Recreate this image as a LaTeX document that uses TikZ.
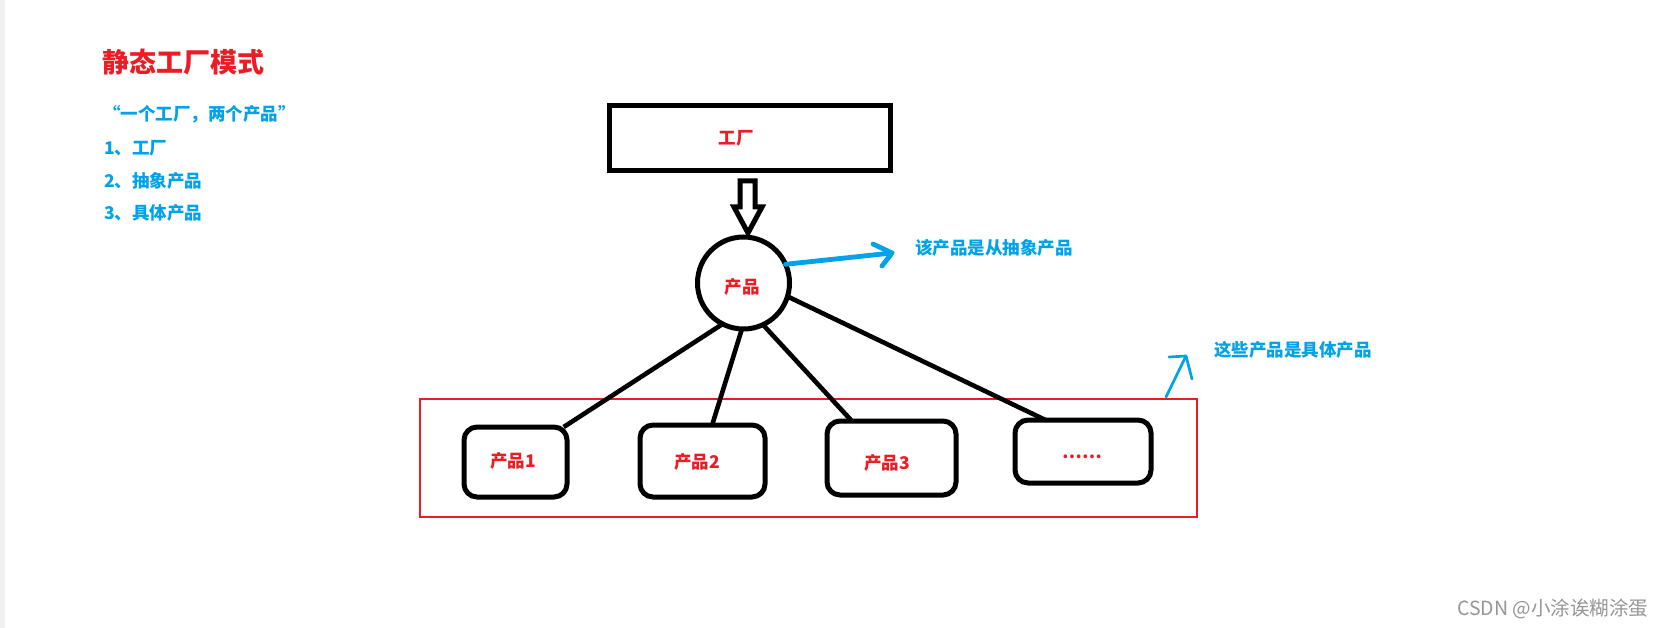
\documentclass[tikz,border=0pt]{standalone}
\usepackage{fontspec}
\newfontfamily\cjk{Noto Sans CJK SC}
\definecolor{pred}{RGB}{237,28,36}
\definecolor{pblue}{RGB}{0,162,232}
\definecolor{wm}{RGB}{150,150,150}
\definecolor{strip}{RGB}{240,240,240}
\begin{document}
\begin{tikzpicture}[x=1pt,y=-1pt,
  every node/.style={inner sep=0pt, outer sep=0pt},
  heavy/.style={draw=black, line width=5pt},
  pbox/.style={heavy, rounded corners=13pt},
  conn/.style={draw=black, line width=4.6pt},
  bluearrow/.style={draw=pblue, line width=4.8pt, line cap=round, line join=round},
  thinblue/.style={draw=pblue, line width=2.7pt, line cap=round, line join=round},
  redtxt/.style={text=pred, font=\cjk\bfseries\fontsize{17.5}{20}\selectfont},
  bluetxt/.style={text=pblue, font=\cjk\bfseries\fontsize{17.5}{20}\selectfont, anchor=west},
]
\useasboundingbox (0,0) rectangle (1662,628);
\fill[white] (0,0) rectangle (1662,628);
\fill[strip] (0,0) rectangle (5,628);

% left texts
\node[anchor=west, text=pred, font=\cjk\bfseries\fontsize{27}{30}\selectfont] (title) at (102,62) {静态工厂模式};
\node[bluetxt] (q) at (103,114) {“一个工厂，两个产品”};
\node[bluetxt] (l1) at (104,148) {1、工厂};
\node[bluetxt] (l2) at (104,181) {2、抽象产品};
\node[bluetxt] (l3) at (104,213) {3、具体产品};

% factory
\node[heavy, minimum width=281pt, minimum height=65pt] (fac) at (750,138) {};
\node[redtxt] (factxt) at (736,138) {工厂};

% hollow arrow
\draw[heavy, line join=miter] (740,181) -- (755,181) -- (755,207) -- (762,207) -- (748,233) -- (734,207) -- (740,207) -- cycle;

% product circle
\node[heavy, circle, minimum size=92pt] (c) at (743.5,283) {};
\node[redtxt] (ctxt) at (742,287) {产品};

% abstract note arrow
\coordinate (t1) at (892,253);
\draw[bluearrow] (c.24) -- (t1);
\draw[bluearrow] (873,244) -- (t1) -- (882,266);
\node[bluetxt] (n1) at (915,248) {该产品是从抽象产品};

% red frame
\node[draw=pred, line width=1.1pt, minimum width=777pt, minimum height=118pt] (frame) at (808.5,458) {};

% concrete boxes
\node[pbox, minimum width=103pt, minimum height=70pt] (b1) at (515.5,462) {};
\node[pbox, minimum width=125pt, minimum height=72pt] (b2) at (702.5,461) {};
\node[pbox, minimum width=129pt, minimum height=74pt] (b3) at (891.5,458) {};
\node[pbox, minimum width=136pt, minimum height=63pt] (b4) at (1083,451.5) {};
\node[redtxt] (b1t) at (513,461) {产品1};
\node[redtxt] (b2t) at (697,462) {产品2};
\node[redtxt] (b3t) at (887,463) {产品3};
\node[redtxt] (b4t) at (1082,457) {……};

% connectors
\draw[conn] (c.243) -- (b1.36);
\draw[conn] (c.268) -- (b2.75);
\draw[conn] (c.295) -- (b3.137);
\draw[conn] (c.343) -- (b4.140);

% concrete note arrow
\coordinate (t2) at (1186,356);
\coordinate (s2) at (1166,397);
\draw[thinblue] (s2) -- (t2);
\draw[thinblue] (1169,357) -- (t2) -- (1192,379);
\node[bluetxt] (n2) at (1214,350) {这些产品是具体产品};

% watermark
\node[anchor=east, text=wm, font=\cjk\fontsize{19.5}{22}\selectfont] (wmk) at (1648,609) {CSDN @小涂诶糊涂蛋};
\end{tikzpicture}
\end{document}
